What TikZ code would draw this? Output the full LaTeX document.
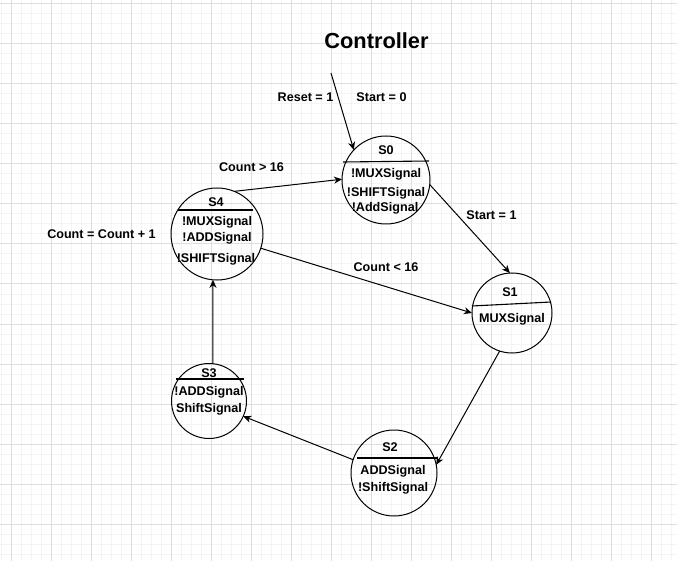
\documentclass[tikz,border=0pt]{standalone}
\usepackage{fontspec}
\setmainfont{Liberation Sans}
\usetikzlibrary{arrows.meta}
\definecolor{gridminor}{RGB}{244,244,244}
\definecolor{gridmajor}{RGB}{222,222,222}
\begin{document}
\begin{tikzpicture}[x=1pt,y=-1pt,
  state/.style={circle,draw,line width=1pt,inner sep=0pt,outer sep=0pt,minimum size=#1},
  lbl/.style={font=\fontsize{12.6}{14}\selectfont\bfseries,inner sep=0pt,anchor=base},
  arr/.style={draw,line width=1pt,-{Stealth[length=8pt,width=7pt,inset=2.5pt]}},
  divider/.style={line width=1.1pt}
]
\useasboundingbox (0,0) rectangle (677,561);
\fill[white] (0,0) rectangle (677,561);
% grid
\foreach \x in {1,11,...,671} \draw[gridminor,line width=1pt] (\x,0) -- (\x,561);
\foreach \y in {4,14,...,554} \draw[gridminor,line width=1pt] (0,\y) -- (677,\y);
\foreach \x in {11,51,...,651} \draw[gridmajor,line width=1pt] (\x,0) -- (\x,561);
\foreach \y in {4,44,...,524} \draw[gridmajor,line width=1pt] (0,\y) -- (677,\y);

% title
\node[font=\fontsize{21.8}{24}\selectfont\bfseries,inner sep=0pt,anchor=base] (title) at (376.5,49) {Controller};

% states
\node[state=88pt] (s0) at (386,180) {};
\node[state=92pt] (s4) at (217,234) {};
\node[state=80pt] (s1) at (512,313) {};
\node[state=75pt] (s3) at (209,401) {};
\node[state=86pt] (s2) at (394,473) {};

% S0
\node[lbl] (s0t) at (386,155) {S0};
\draw[divider] (343,162) -- (429,161);
\node[lbl] (s0a) at (386,178) {!MUXSignal};
\node[lbl] (s0b) at (386,196.5) {!SHIFTSignal};
\node[lbl] (s0c) at (385,212) {!AddSignal};

% S4
\node[lbl] (s4t) at (216,207) {S4};
\draw[divider] (178,210) -- (253,210);
\node[lbl] (s4a) at (217,226) {!MUXSignal};
\node[lbl] (s4b) at (217,242) {!ADDSignal};
\node[lbl] (s4c) at (216,262) {!SHIFTSignal};

% S1
\node[lbl] (s1t) at (510,296) {S1};
\draw[divider] (472,306) -- (551,302);
\node[lbl] (s1a) at (512,322) {MUXSignal};

% S3
\node[lbl] (s3t) at (209,377) {S3};
\draw[divider] (176,379) -- (244,379);
\node[lbl] (s3a) at (209,395.5) {!ADDSignal};
\node[lbl] (s3b) at (209,412) {ShiftSignal};

% S2
\node[lbl] (s2t) at (390,451.5) {S2};
\draw[divider] (357,458) -- (438,458);
\node[lbl] (s2a) at (393,474) {ADDSignal};
\node[lbl] (s2b) at (393,491.5) {!ShiftSignal};

% edge labels
\node[lbl] (lreset) at (305.5,102) {Reset = 1};
\node[lbl] (lstart0) at (381.5,102) {Start = 0};
\node[lbl] (lcgt) at (251.5,172) {Count > 16};
\node[lbl] (lcinc) at (101.5,238.5) {Count = Count + 1};
\node[lbl] (lstart1) at (491.5,220) {Start = 1};
\node[lbl] (lclt) at (386,272) {Count < 16};

% connectors
\coordinate (rs) at (331,73);
\draw[arr] (rs) -- (s0.137);
\draw[arr] (s4.68) -- (s0.179);
\draw[arr] (s0.-6.5) -- (s1.93);
\draw[arr] (s4.-18) -- (s1.180);
\draw[arr] (s1.-108) -- (s2.11);
\draw[arr] (s2.162) -- (s3.-24);
\draw[arr] (s3.84) -- (s4.-95);
\end{tikzpicture}
\end{document}
